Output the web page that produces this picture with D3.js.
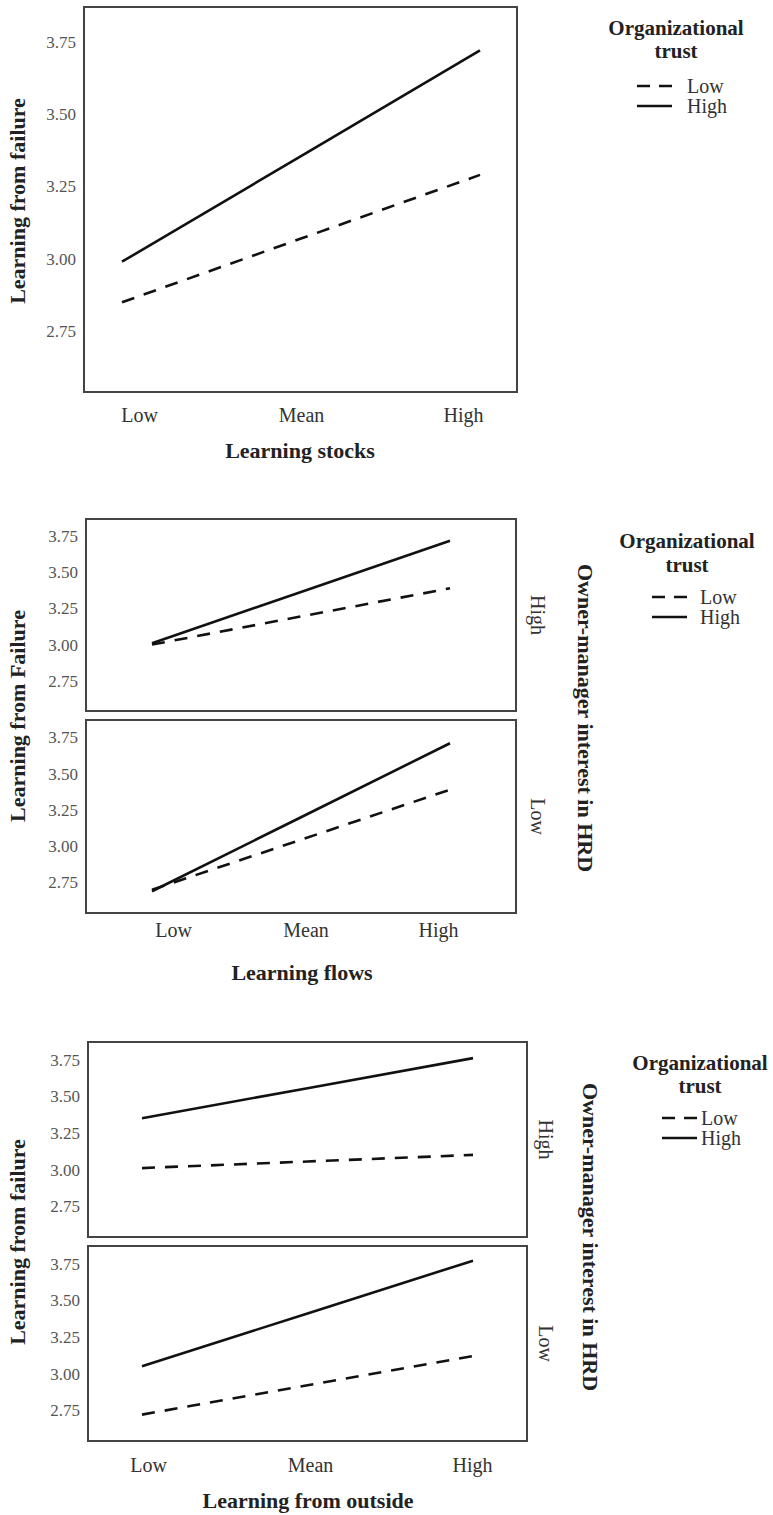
<!DOCTYPE html>
<html>
<head>
<meta charset="utf-8">
<script src="https://cdn.jsdelivr.net/npm/d3@7"></script>
<style>
  body { margin: 0; background: #fff; }
  svg { display: block; }
  text { font-family: "Liberation Serif", "Times New Roman", serif; }
</style>
</head>
<body>
<script>
'use strict';

const levels = ['Low', 'Mean', 'High'];
const trustLevels = ['Low', 'High'];
const tickValues = [2.75, 3.00, 3.25, 3.50, 3.75];
const yDomain = [2.54, 3.87];

// learning stocks
const stocksLowTrust = [2.85, 3.07, 3.29];
const stocksHighTrust = [2.99, 3.355, 3.72];

// learning flows, split by owner-manager interest in HRD
const flowsOmHighLowTrust = [3.00, 3.195, 3.39];
const flowsOmHighHighTrust = [3.01, 3.365, 3.72];
const flowsOmLowLowTrust = [2.70, 3.045, 3.39];
const flowsOmLowHighTrust = [2.69, 3.20, 3.71];

// learning from outside, split by owner-manager interest in HRD
const outsideOmHighLowTrust = [3.01, 3.055, 3.10];
const outsideOmHighHighTrust = [3.35, 3.555, 3.76];
const outsideOmLowLowTrust = [2.72, 2.92, 3.12];
const outsideOmLowHighTrust = [3.05, 3.41, 3.77];

const stripTitle = 'Owner-manager interest in HRD';
const legendTitle = ['Organizational', 'trust'];

const charts = [
  {
    xTitle: 'Learning stocks', yTitle: 'Learning from failure',
    left: 84, right: 517, lineRange: [122, 480], labelRange: [139, 463],
    panels: [{top: 7, bottom: 392, low: stocksLowTrust, high: stocksHighTrust}],
    labelPad: 16, xTitleX: 300, xTitleY: 458, yTitleY: 201,
    legend: {x: 676, y1: 35, y2: 58, rowY: 86, symX: 637, textX: 687},
  },
  {
    xTitle: 'Learning flows', yTitle: 'Learning from Failure',
    left: 86, right: 516, lineRange: [152, 450], labelRange: [173, 438],
    panels: [
      {top: 519, bottom: 711, low: flowsOmHighLowTrust, high: flowsOmHighHighTrust, label: 'High'},
      {top: 720, bottom: 913, low: flowsOmLowLowTrust, high: flowsOmLowHighTrust, label: 'Low'},
    ],
    labelPad: 10, xTitleX: 302, xTitleY: 980, yTitleY: 716,
    stripX: 531, stripTitleX: 578, stripTitleY: 718,
    legend: {x: 687, y1: 548, y2: 572, rowY: 597, symX: 652, textX: 700},
  },
  {
    xTitle: 'Learning from outside', yTitle: 'Learning from failure',
    left: 88, right: 527, lineRange: [142, 473], labelRange: [148, 472],
    panels: [
      {top: 1042, bottom: 1237, low: outsideOmHighLowTrust, high: outsideOmHighHighTrust, label: 'High'},
      {top: 1246, bottom: 1441, low: outsideOmLowLowTrust, high: outsideOmLowHighTrust, label: 'Low'},
    ],
    labelPad: 17, xTitleX: 308, xTitleY: 1508, yTitleY: 1242,
    stripX: 539, stripTitleX: 583, stripTitleY: 1237,
    legend: {x: 700, y1: 1070, y2: 1093, rowY: 1118, symX: 662, textX: 701},
  },
];

const svg = d3.select('body').append('svg')
    .attr('width', 773)
    .attr('height', 1515);

function drawPanel(g, chart, panel) {
  const y = d3.scaleLinear().domain(yDomain).range([panel.bottom, panel.top]);
  const x = d3.scalePoint().domain(levels).range(chart.lineRange);

  g.append('rect')
      .attr('x', chart.left)
      .attr('y', panel.top)
      .attr('width', chart.right - chart.left)
      .attr('height', panel.bottom - panel.top)
      .attr('fill', 'none')
      .attr('stroke', '#444')
      .attr('stroke-width', 2);

  const axis = g.append('g')
      .attr('transform', 'translate(' + chart.left + ',0)')
      .call(d3.axisLeft(y).tickValues(tickValues).tickFormat(d3.format('.2f')).tickSize(0).tickPadding(8));
  axis.select('.domain').remove();
  axis.selectAll('text')
      .attr('fill', '#555')
      .style('font-size', '17px')
      .style('font-family', '"Liberation Serif", serif');

  const line = d3.line()
      .x((d, i) => x(levels[i]))
      .y(d => y(d));

  g.append('path')
      .datum(panel.low)
      .attr('d', line)
      .attr('fill', 'none')
      .attr('stroke', '#111')
      .attr('stroke-width', 2.6)
      .attr('stroke-dasharray', '13,10');

  g.append('path')
      .datum(panel.high)
      .attr('d', line)
      .attr('fill', 'none')
      .attr('stroke', '#111')
      .attr('stroke-width', 2.6);

  if (panel.label) {
    g.append('text')
        .attr('transform', 'translate(' + chart.stripX + ',' + (panel.top + panel.bottom) / 2 + ') rotate(90)')
        .attr('text-anchor', 'middle')
        .attr('fill', '#333')
        .style('font-size', '20px')
        .text(panel.label);
  }
}

function drawLegend(g, lg) {
  g.selectAll('.lt')
    .data(legendTitle)
    .join('text')
      .attr('x', lg.x)
      .attr('y', (d, i) => i ? lg.y2 : lg.y1)
      .attr('text-anchor', 'middle')
      .attr('font-weight', 'bold')
      .attr('fill', '#222')
      .style('font-size', '21px')
      .text(d => d);

  const rows = g.selectAll('.row')
    .data(trustLevels)
    .join('g')
      .attr('transform', (d, i) => 'translate(0,' + (lg.rowY + i * 20) + ')');

  rows.append('line')
      .attr('x1', lg.symX)
      .attr('x2', lg.symX + 35)
      .attr('stroke', '#111')
      .attr('stroke-width', 2.6)
      .attr('stroke-dasharray', d => d === 'Low' ? '13,9' : null);

  rows.append('text')
      .attr('x', lg.textX)
      .attr('y', 7)
      .attr('fill', '#333')
      .style('font-size', '20px')
      .text(d => d);
}

charts.forEach((chart) => {
  const g = svg.append('g');
  chart.panels.forEach(p => drawPanel(g, chart, p));

  const last = chart.panels[chart.panels.length - 1];
  const xLab = d3.scalePoint().domain(levels).range(chart.labelRange);
  const xAxis = g.append('g')
      .attr('transform', 'translate(0,' + last.bottom + ')')
      .call(d3.axisBottom(xLab).tickSize(0).tickPadding(chart.labelPad));
  xAxis.select('.domain').remove();
  xAxis.selectAll('text')
      .attr('fill', '#333')
      .style('font-size', '20px')
      .style('font-family', '"Liberation Serif", serif');

  g.append('text')
      .attr('x', chart.xTitleX)
      .attr('y', chart.xTitleY)
      .attr('text-anchor', 'middle')
      .attr('font-weight', 'bold')
      .attr('fill', '#222')
      .style('font-size', '22px')
      .text(chart.xTitle);

  g.append('text')
      .attr('transform', 'translate(25,' + chart.yTitleY + ') rotate(-90)')
      .attr('text-anchor', 'middle')
      .attr('font-weight', 'bold')
      .attr('fill', '#222')
      .style('font-size', '22px')
      .text(chart.yTitle);

  if (chart.stripTitleX) {
    g.append('text')
        .attr('transform', 'translate(' + chart.stripTitleX + ',' + chart.stripTitleY + ') rotate(90)')
        .attr('text-anchor', 'middle')
        .attr('font-weight', 'bold')
        .attr('fill', '#222')
        .style('font-size', '22px')
        .text(stripTitle);
  }

  drawLegend(g.append('g'), chart.legend);
});
</script>
</body>
</html>
